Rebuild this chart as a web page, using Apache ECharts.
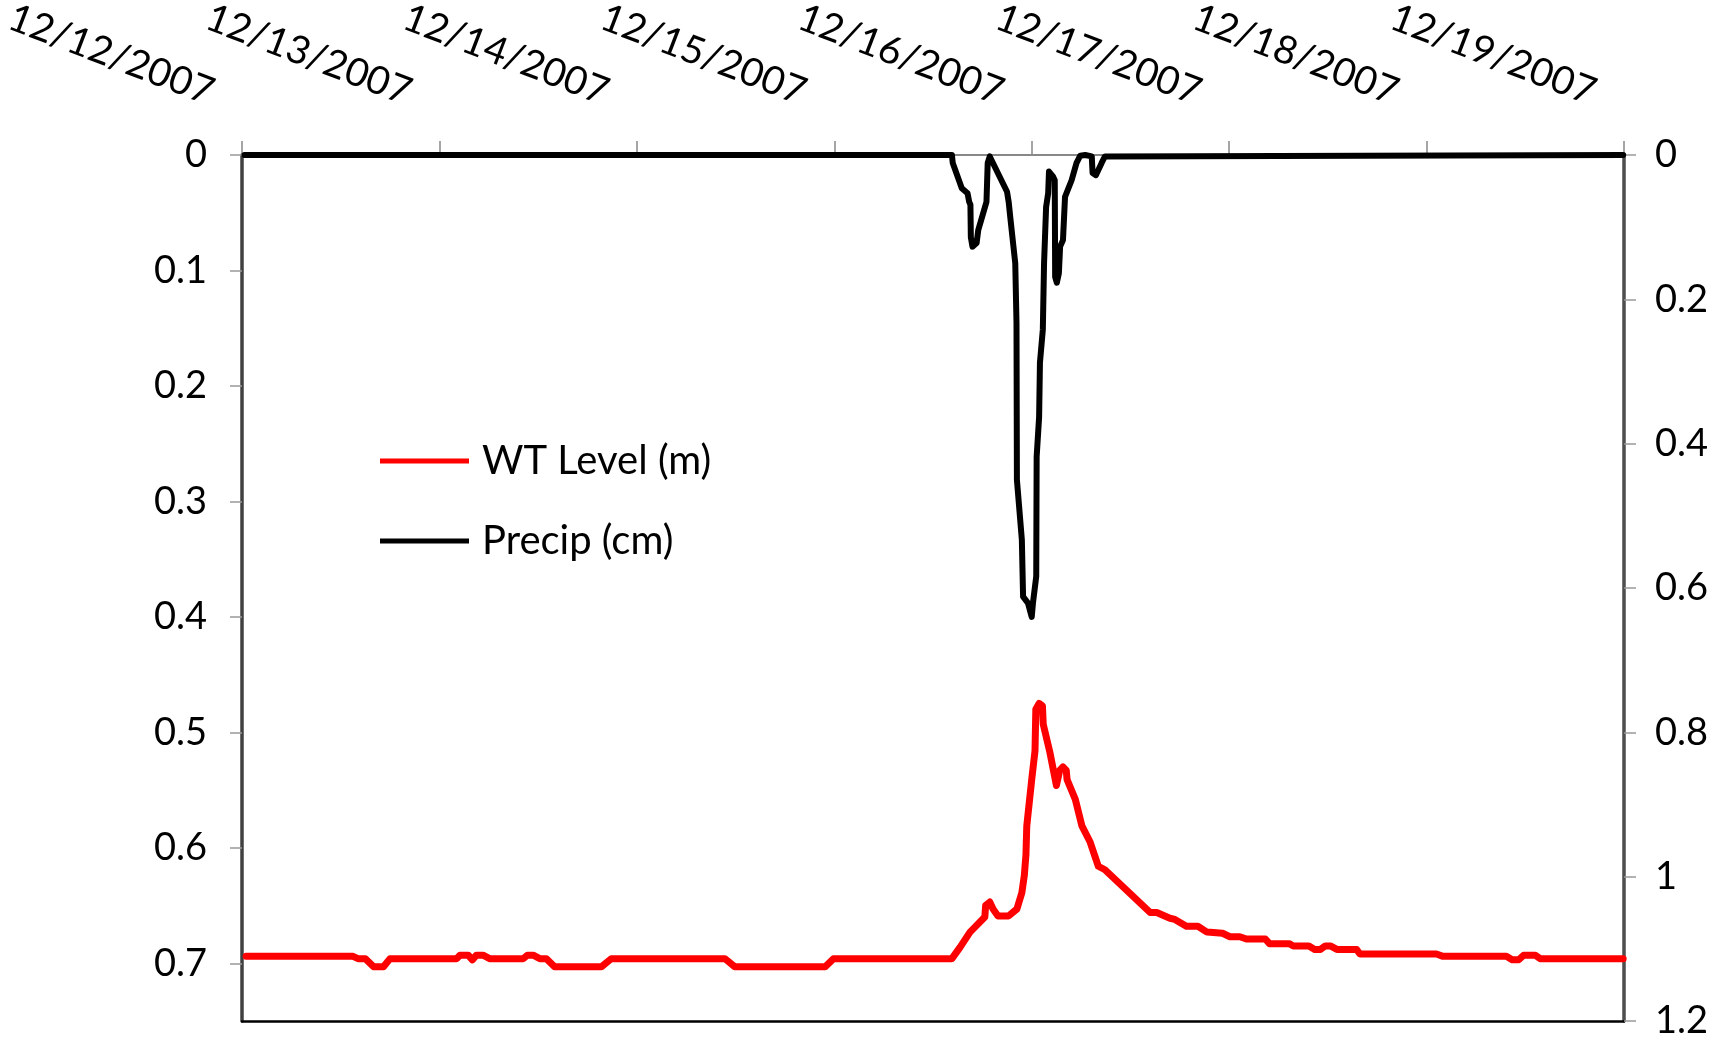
<!DOCTYPE html>
<html>
<head>
<meta charset="utf-8">
<script src="https://cdn.jsdelivr.net/npm/echarts@6/dist/echarts.min.js"></script>
<style>
  html, body { margin: 0; padding: 0; background: #fff; }
  #chart { width: 1723px; height: 1044px; }
</style>
</head>
<body>
<div id="chart"></div>
<script>
// hours after 12/12/2007 00:00
var dateLabels = ['12/12/2007', '12/13/2007', '12/14/2007', '12/15/2007', '12/16/2007', '12/17/2007', '12/18/2007', '12/19/2007']

var wtHours = [0.5, 13.5, 14.1, 15.0, 16.0, 17.2, 18.0, 26.1, 26.5, 27.5, 28.0, 28.5, 29.3, 30.1, 34.2, 34.7, 35.4, 36.2, 37.0, 38.0,
  43.7, 44.9, 58.7, 59.9, 70.9, 71.9, 86.3, 87.3, 88.5, 90.3, 90.4, 90.9, 91.3, 91.9, 93.2, 94.2, 94.8, 95.1, 95.3, 95.4,
  96.0, 96.4, 96.5, 96.9, 97.3, 97.4, 98.2, 99.0, 99.4, 99.8, 100.2, 100.3, 101.3, 102.1, 103.1, 104.1, 104.9, 110.4, 111.2, 112.8,
  113.4, 114.8, 116.2, 117.3, 119.2, 120.1, 121.3, 122.1, 124.4, 124.9, 127.3, 127.8, 129.7, 130.4, 131.1, 131.7, 132.3, 133.1, 135.5, 135.9,
  145.2, 146.0, 153.7, 154.4, 155.2, 155.8, 157.2, 157.8, 167.9]
var wtLevel = [0.694, 0.694, 0.696, 0.696, 0.703, 0.703, 0.696, 0.696, 0.693, 0.693, 0.697, 0.693, 0.693, 0.696, 0.696, 0.693, 0.693, 0.696, 0.696, 0.703,
  0.703, 0.696, 0.696, 0.703, 0.703, 0.696, 0.696, 0.686, 0.673, 0.660, 0.650, 0.647, 0.653, 0.659, 0.659, 0.653, 0.639, 0.624, 0.606, 0.581,
  0.541, 0.516, 0.480, 0.475, 0.477, 0.493, 0.517, 0.546, 0.533, 0.530, 0.533, 0.541, 0.558, 0.581, 0.595, 0.616, 0.619, 0.656, 0.656, 0.661,
  0.662, 0.668, 0.668, 0.673, 0.674, 0.677, 0.677, 0.679, 0.679, 0.683, 0.683, 0.685, 0.685, 0.688, 0.688, 0.685, 0.685, 0.688, 0.688, 0.692,
  0.692, 0.694, 0.694, 0.697, 0.697, 0.693, 0.693, 0.696, 0.696]

var precipHours = [0.3, 86.3, 86.4, 87.5, 88.2, 88.4, 88.55, 88.6, 88.8, 89.3, 89.5, 90.5, 90.65, 90.9, 93.0, 93.2, 93.4, 94.0, 94.15, 94.2,
  94.8, 94.95, 95.55, 96.0, 96.15, 96.55, 96.6, 96.9, 97.0, 97.35, 97.5, 97.75, 98.0, 98.1, 98.6, 98.8, 98.85, 99.05, 99.3, 99.45,
  99.8, 100.05, 100.85, 101.45, 101.9, 102.5, 103.3, 103.4, 103.8, 104.5, 104.9, 105.0, 167.9]
var precipCm = [0, 0, 0.011, 0.046, 0.053, 0.065, 0.069, 0.114, 0.127, 0.122, 0.104, 0.065, 0.011, 0.002, 0.051, 0.065, 0.087, 0.150, 0.233, 0.450,
  0.533, 0.612, 0.621, 0.640, 0.621, 0.584, 0.418, 0.363, 0.288, 0.242, 0.150, 0.072, 0.053, 0.023, 0.030, 0.035, 0.169, 0.177, 0.164, 0.127,
  0.118, 0.058, 0.035, 0.011, 0.001, 0, 0.002, 0.025, 0.028, 0.011, 0.002, 0, 0]

var font = 'Lato'
var fontSize = 38

var chart = echarts.init(document.getElementById('chart'))

var wtData = wtHours.map(function(h, i) { return [h, wtLevel[i]] })
var precipData = precipHours.map(function(h, i) { return [h, precipCm[i]] })

var option = {
  backgroundColor: '#fff',
  animation: false,
  textStyle: { fontFamily: font },
  grid: {
    left: 242,
    right: 99,
    top: 155,
    bottom: 23,
    outerBoundsMode: 'none'
  },
  legend: {
    orient: 'vertical',
    left: 375,
    top: 436,
    itemWidth: 89,
    itemHeight: 5,
    itemGap: 40,
    icon: 'rect',
    textStyle: { fontFamily: font, fontSize: 40, color: '#000', padding: [0, 0, 0, 8] },
    data: ['WT Level (m)', 'Precip (cm)']
  },
  xAxis: [
    {
      type: 'value',
      position: 'top',
      min: 0,
      max: 168,
      interval: 24,
      axisLine: { onZero: false, lineStyle: { color: '#888', width: 2 } },
      axisTick: { length: 14, lineStyle: { color: '#888', width: 1.5 } },
      splitLine: { show: false },
      axisLabel: {
        rotate: 21,
        margin: 50,
        padding: [0, 32, 0, 0],
        fontFamily: font,
        fontSize: 39,
        color: '#000',
        formatter: function(h) { return dateLabels[Math.round(h / 24)] }
      }
    },
    {
      type: 'value',
      position: 'bottom',
      min: 0,
      max: 168,
      axisLine: { onZero: false, lineStyle: { color: '#000', width: 2.5 } },
      axisTick: { show: false },
      axisLabel: { show: false },
      splitLine: { show: false }
    }
  ],
  yAxis: [
    {
      type: 'value',
      position: 'left',
      inverse: true,
      min: 0,
      max: 0.75,
      interval: 0.1,
      axisLine: { show: true, onZero: false, lineStyle: { color: '#404040', width: 3.5 } },
      axisTick: { show: true, length: 12, lineStyle: { color: '#999', width: 1.5 } },
      splitLine: { show: false },
      axisLabel: { margin: 35, fontFamily: font, fontSize: fontSize, color: '#000', showMaxLabel: false }
    },
    {
      type: 'value',
      position: 'right',
      inverse: true,
      min: 0,
      max: 1.2,
      interval: 0.2,
      axisLine: { show: true, onZero: false, lineStyle: { color: '#4d4d4d', width: 3.5 } },
      axisTick: { show: true, length: 12, lineStyle: { color: '#999', width: 1.5 } },
      splitLine: { show: false },
      axisLabel: { margin: 31, fontFamily: font, fontSize: fontSize, color: '#000' }
    }
  ],
  series: [
    {
      name: 'WT Level (m)',
      type: 'line',
      xAxisIndex: 0,
      yAxisIndex: 0,
      data: wtData,
      showSymbol: false,
      symbol: 'none',
      color: '#ff0000',
      lineStyle: { color: '#ff0000', width: 7, join: 'round', cap: 'round' }
    },
    {
      name: 'Precip (cm)',
      type: 'line',
      xAxisIndex: 0,
      yAxisIndex: 1,
      data: precipData,
      showSymbol: false,
      symbol: 'none',
      color: '#000',
      lineStyle: { color: '#000', width: 6, join: 'round', cap: 'round' }
    }
  ]
}

chart.setOption(option)
</script>
</body>
</html>
